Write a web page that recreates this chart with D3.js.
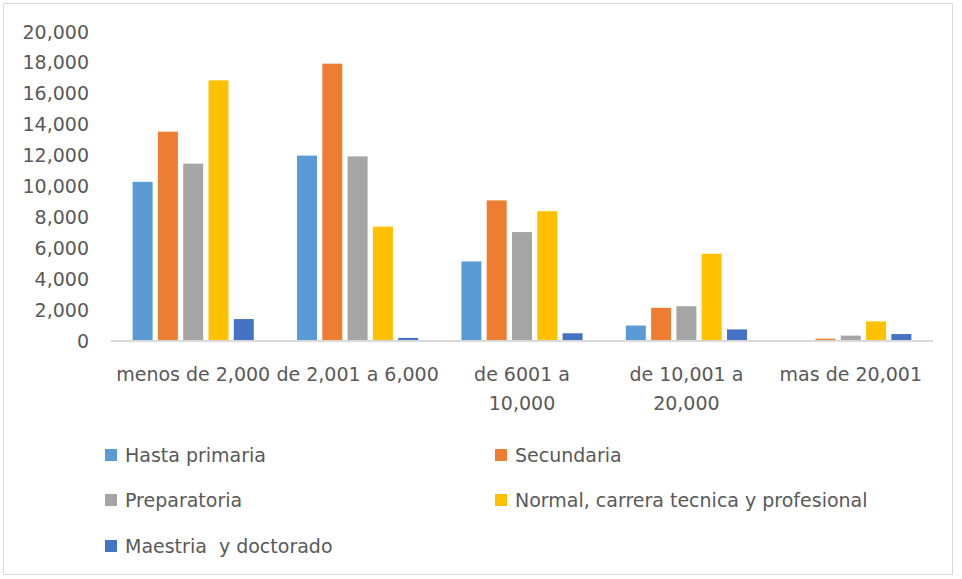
<!DOCTYPE html>
<html>
<head>
<meta charset="utf-8">
<script src="https://cdn.jsdelivr.net/npm/d3@7"></script>
<style>
  body { margin: 0; background: #fff; }
  svg text { font-family: 'DejaVu Sans', sans-serif; fill: #595959; }
</style>
</head>
<body>
<div id="chart"></div>
<script>
// income brackets (x categories), "\n" marks where the label wraps
const categories = ['menos de 2,000', 'de 2,001 a 6,000', 'de 6001 a\n10,000', 'de 10,001 a\n20,000', 'mas de 20,001'];
const seriesNames = ['Hasta primaria', 'Secundaria', 'Preparatoria', 'Normal, carrera tecnica y profesional', 'Maestria  y doctorado'];
const seriesColors = ['#5B9BD5', '#ED7D31', '#A5A5A5', '#FFC000', '#4472C4'];

// values per series, one per category
const hastaPrimaria = [10300, 12000, 5150, 1000, 0];
const secundaria = [13550, 17950, 9100, 2150, 150];
const preparatoria = [11480, 11950, 7050, 2250, 350];
const normalCarrera = [16870, 7400, 8400, 5650, 1270];
const maestria = [1420, 200, 500, 750, 450];

const yTicks = [0, 2000, 4000, 6000, 8000, 10000, 12000, 14000, 16000, 18000, 20000];

const seriesValues = [hastaPrimaria, secundaria, preparatoria, normalCarrera, maestria];

const W = 962, H = 579;
const plot = { left: 111, right: 933, top: 32, bottom: 341 };
const fontSize = 19;

const svg = d3.select('#chart')
  .append('svg')
  .attr('width', W)
  .attr('height', H);

svg.append('rect')
  .attr('x', 0).attr('y', 0)
  .attr('width', W).attr('height', H)
  .attr('fill', '#fff');

// outer chart border
svg.append('rect')
  .attr('x', 3.5).attr('y', 3.5)
  .attr('width', 949).attr('height', 571)
  .attr('fill', 'none')
  .attr('stroke', '#d9d9d9')
  .attr('stroke-width', 1);

// scales
const x0 = d3.scaleBand()
  .domain(categories)
  .range([plot.left, plot.right])
  .paddingInner(0)
  .paddingOuter(0);

const x1 = d3.scaleBand()
  .domain(seriesNames)
  .range([0, x0.bandwidth()])
  .paddingInner(0.21)
  .paddingOuter(0.855);

const y = d3.scaleLinear()
  .domain([0, 20000])
  .range([plot.bottom, plot.top]);

// y axis labels (no line, no ticks)
const yAxis = svg.append('g')
  .attr('transform', `translate(${plot.left}, 0)`)
  .call(d3.axisLeft(y).tickValues(yTicks).tickFormat(d3.format(',')).tickSize(0).tickPadding(22));
yAxis.select('.domain').remove();
yAxis.selectAll('text')
  .attr('font-family', 'DejaVu Sans, sans-serif')
  .attr('font-size', fontSize)
  .attr('fill', '#595959');

// bars
const groups = svg.selectAll('.cat')
  .data(categories)
  .enter()
  .append('g')
  .attr('class', 'cat')
  .attr('transform', (d) => `translate(${x0(d)}, 0)`);

groups.selectAll('rect')
  .data((d, i) => seriesNames.map((s, j) => ({ series: s, value: seriesValues[j][i], color: seriesColors[j] })))
  .enter()
  .append('rect')
  .attr('x', (d) => x1(d.series))
  .attr('y', (d) => y(d.value))
  .attr('width', x1.bandwidth())
  .attr('height', (d) => y(0) - y(d.value))
  .attr('fill', (d) => d.color);

// baseline
svg.append('line')
  .attr('x1', plot.left)
  .attr('x2', plot.right)
  .attr('y1', y(0))
  .attr('y2', y(0))
  .attr('stroke', '#d9d9d9')
  .attr('stroke-width', 2);

// category labels, wrapped
const catLabels = svg.append('g')
  .selectAll('text')
  .data(categories)
  .enter()
  .append('text')
  .attr('x', (d) => x0(d) + x0.bandwidth() / 2)
  .attr('y', 381)
  .attr('text-anchor', 'middle')
  .attr('font-size', fontSize);

catLabels.selectAll('tspan')
  .data((d) => d.split('\n'))
  .enter()
  .append('tspan')
  .attr('x', function () { return d3.select(this.parentNode).attr('x'); })
  .attr('dy', (d, i) => (i === 0 ? 0 : 29))
  .text((d) => d);

// legend, two columns
const legendCols = [105, 495];
const legendRows = [455, 500, 546];

const legend = svg.append('g')
  .selectAll('g')
  .data(seriesNames)
  .enter()
  .append('g')
  .attr('transform', (d, i) => `translate(${legendCols[i % 2]}, ${legendRows[Math.floor(i / 2)]})`);

legend.append('rect')
  .attr('x', 0)
  .attr('y', -6)
  .attr('width', 12)
  .attr('height', 12)
  .attr('fill', (d, i) => seriesColors[i]);

legend.append('text')
  .attr('x', 20)
  .attr('y', 0)
  .attr('dominant-baseline', 'central')
  .attr('font-size', fontSize)
  .style('white-space', 'pre')
  .text((d) => d);
</script>
</body>
</html>
